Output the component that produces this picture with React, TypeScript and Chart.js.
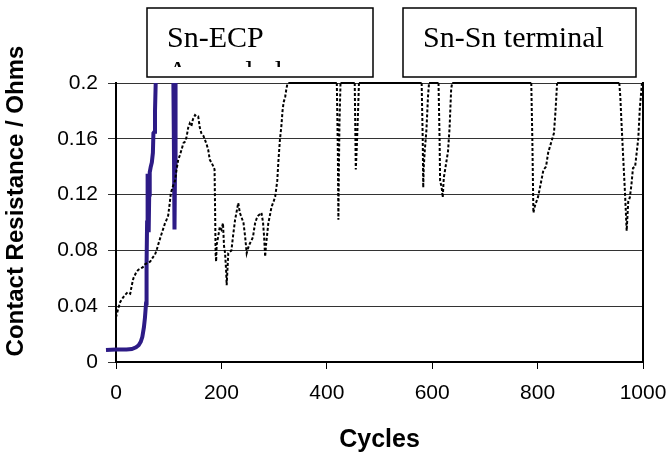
import React, { useEffect, useRef } from 'react';
import { Chart, registerables } from 'chart.js';

Chart.register(...registerables);

// ---- Data ----
const snEcpCycles = [-19, 0, 20, 30, 38, 43, 47, 50, 53, 55, 57, 58, 59, 60, 61, 62, 63, 64, 66, 68, 70, 71, 73, 74, 76, 78, 82, 104, 108, 110, 111, 112, 113, 115, 120];
const snEcpOhms = [0.0086, 0.009, 0.009, 0.0093, 0.0105, 0.012, 0.0145, 0.018, 0.025, 0.032, 0.042, 0.07, 0.1, 0.135, 0.11, 0.093, 0.12, 0.136, 0.14, 0.143, 0.15, 0.164, 0.165, 0.18, 0.21, 0.28, 0.3, 0.3, 0.24, 0.15, 0.095, 0.14, 0.2, 0.3, 0.3];

const snSnCycles = [
  0, 4, 8, 13, 17, 22, 27, 30, 33, 38, 42, 47, 51, 55, 60, 65, 70, 74, 77, 80,
  84, 87, 90, 93, 96, 99, 102, 104, 108, 112, 115, 118, 121, 125, 128, 131, 134, 137, 140, 143,
  146, 150, 153, 156, 159, 162, 166, 169, 172, 175, 178, 181, 185, 187, 188, 189, 190, 191, 194, 197,
  200, 203, 205, 207, 209, 210, 212, 213, 216, 219, 222, 226, 229, 232, 235, 238, 242, 245, 248, 251,
  254, 257, 260, 262, 264, 267, 270, 273, 276, 279, 281, 283, 285, 287, 289, 292, 295, 299, 302, 304,
  306, 308, 311, 314, 316, 318, 321, 323, 325, 327,
  419, 421, 422, 423, 424, 426,
  453, 454, 455, 457, 459, 461,
  580, 582, 583, 584, 586, 589, 592, 594,
  612, 614, 615, 618, 620, 622, 625, 630, 633, 636, 638,
  788, 790, 792, 795, 801, 806, 811, 816, 820, 827, 831, 834, 837,
  955, 957, 959, 962, 966, 969, 972, 975, 978, 981, 985, 991, 994, 998, 1000,
];
const snSnOhms = [
  0.032, 0.038, 0.043, 0.046, 0.048, 0.05, 0.049, 0.055, 0.06, 0.064, 0.066, 0.067, 0.068, 0.07, 0.071, 0.072, 0.075, 0.077, 0.08, 0.084,
  0.089, 0.0925, 0.096, 0.0995, 0.102, 0.105, 0.114, 0.121, 0.126, 0.13, 0.138, 0.145, 0.148, 0.153, 0.157, 0.158, 0.1615, 0.168, 0.171, 0.169,
  0.174, 0.177, 0.176, 0.176, 0.168, 0.164, 0.162, 0.159, 0.156, 0.152, 0.145, 0.143, 0.14, 0.138, 0.11, 0.078, 0.072, 0.084, 0.09, 0.097,
  0.095, 0.0995, 0.083, 0.078, 0.065, 0.055, 0.07, 0.078, 0.079, 0.08, 0.09, 0.102, 0.108, 0.114, 0.107, 0.104, 0.0995, 0.09, 0.078, 0.082,
  0.085, 0.087, 0.0897, 0.095, 0.0995, 0.103, 0.105, 0.106, 0.107, 0.1, 0.09, 0.0755, 0.085, 0.092, 0.0995, 0.105, 0.111, 0.115, 0.1185, 0.124,
  0.13, 0.143, 0.159, 0.17, 0.18, 0.186, 0.19, 0.195, 0.199, 0.2,
  0.2, 0.15, 0.102, 0.14, 0.171, 0.2,
  0.2, 0.17, 0.138, 0.155, 0.176, 0.2,
  0.2, 0.16, 0.125, 0.14, 0.152, 0.166, 0.19, 0.2,
  0.2, 0.16, 0.13, 0.125, 0.118, 0.132, 0.139, 0.151, 0.168, 0.196, 0.2,
  0.2, 0.16, 0.107, 0.112, 0.1185, 0.128, 0.1376, 0.14, 0.15, 0.159, 0.164, 0.18, 0.2,
  0.2, 0.19, 0.173, 0.15, 0.12, 0.094, 0.115, 0.118, 0.127, 0.139, 0.14, 0.16, 0.182, 0.2, 0.2,
];

const xTickValues = [0, 200, 400, 600, 800, 1000];
const xTickLabels = ['0', '200', '400', '600', '800', '1000'];
const yTickValues = [0, 0.04, 0.08, 0.12, 0.16, 0.2];
const yTickLabels = ['0', '0.04', '0.08', '0.12', '0.16', '0.2'];

const seriesLabels = ['Sn-ECP', 'Sn-Sn terminal'];
const ecpSubLabel = 'Annealed';
const xTitle = 'Cycles';
const yTitle = 'Contact Resistance / Ohms';

const SANS = '"Liberation Sans", Arial, sans-serif';
const SERIF = '"Liberation Serif", "Times New Roman", serif';

const annotationPlugin = {
  id: 'annotationPlugin',
  afterDraw(chart: any) {
    const ctx: CanvasRenderingContext2D = chart.ctx;
    const area = chart.chartArea;
    ctx.save();
    ctx.fillStyle = '#000';

    // y-axis title
    ctx.save();
    ctx.font = `bold 24px ${SANS}`;
    ctx.textAlign = 'center';
    ctx.textBaseline = 'middle';
    ctx.translate(16, 201);
    ctx.rotate(-Math.PI / 2);
    ctx.fillText(yTitle, 0, 0);
    ctx.restore();

    // x-axis title
    ctx.font = `bold 25px ${SANS}`;
    ctx.textAlign = 'center';
    ctx.textBaseline = 'alphabetic';
    ctx.fillText(xTitle, (area.left + area.right) / 2, 447);

    // label boxes
    const boxes = [
      { x: 147, w: 226, label: seriesLabels[0], sub: ecpSubLabel },
      { x: 403, w: 233, label: seriesLabels[1], sub: '' },
    ];
    for (const b of boxes) {
      ctx.fillStyle = '#fff';
      ctx.fillRect(b.x, 8, b.w, 69);
      ctx.strokeStyle = '#000';
      ctx.lineWidth = 1.5;
      ctx.strokeRect(b.x, 8, b.w, 69);
      ctx.save();
      ctx.beginPath();
      ctx.rect(b.x + 2, 10, b.w - 4, 57);
      ctx.clip();
      ctx.fillStyle = '#000';
      ctx.font = `30px ${SERIF}`;
      ctx.textAlign = 'left';
      ctx.textBaseline = 'alphabetic';
      ctx.fillText(b.label, b.x + 20, 47);
      if (b.sub) ctx.fillText(b.sub, b.x + 20, 81);
      ctx.restore();
    }
    ctx.restore();
  },
};

export default function App() {
  const ref = useRef<HTMLCanvasElement>(null);

  useEffect(() => {
    const ecpData = snEcpCycles.map((c, i) => ({ x: c, y: snEcpOhms[i] }));
    const snData = snSnCycles.map((c, i) => ({ x: c, y: snSnOhms[i] }));

    const chart = new Chart(ref.current as HTMLCanvasElement, {
      type: 'line',
      data: {
        datasets: [
          {
            label: seriesLabels[1],
            data: snData,
            borderColor: '#000',
            borderWidth: 2,
            borderDash: [3, 2],
            pointRadius: 0,
            tension: 0,
            fill: false,
            clip: { left: 0, top: 3, right: 3, bottom: 0 } as any,
            segment: {
              borderDash: (ctx: any) =>
                ctx.p0.parsed.y >= 0.2 && ctx.p1.parsed.y >= 0.2 ? [] : [3, 2],
            },
          },
          {
            label: seriesLabels[0],
            data: ecpData,
            borderColor: '#2D1B86',
            borderWidth: 4,
            pointRadius: 0,
            tension: 0,
            fill: false,
            clip: { left: 12, top: 0, right: 0, bottom: 0 } as any,
          },
        ],
      },
      options: {
        responsive: false,
        animation: false,
        events: [],
        layout: { padding: { top: 83, right: 27, left: 0, bottom: 0 } },
        plugins: {
          legend: { display: false },
          tooltip: { enabled: false },
          title: { display: false },
        },
        scales: {
          x: {
            type: 'linear',
            min: 0,
            max: 1000,
            afterBuildTicks: (s: any) => {
              s.ticks = xTickValues.map((v) => ({ value: v }));
            },
            afterFit: (s: any) => {
              s.height = 94;
              s.paddingLeft = 0;
              s.paddingRight = 0;
            },
            ticks: {
              callback: (_v: any, i: number) => xTickLabels[i],
              font: { family: SANS, size: 21 },
              color: '#000',
              padding: 12,
              maxRotation: 0,
            },
            grid: {
              drawOnChartArea: false,
              drawTicks: true,
              tickLength: 7,
              color: '#000',
              lineWidth: 1,
            },
            border: { display: true, color: '#000', width: 2 },
          },
          y: {
            type: 'linear',
            min: 0,
            max: 0.2,
            afterBuildTicks: (s: any) => {
              s.ticks = yTickValues.map((v) => ({ value: v }));
            },
            afterFit: (s: any) => {
              s.width = 116;
              s.paddingTop = 0;
              s.paddingBottom = 0;
            },
            ticks: {
              callback: (_v: any, i: number) => yTickLabels[i],
              font: { family: SANS, size: 21 },
              color: '#000',
              padding: 10,
            },
            grid: {
              drawOnChartArea: true,
              drawTicks: true,
              tickLength: 8,
              color: '#333',
              lineWidth: 1,
            },
            border: { display: true, color: '#000', width: 2 },
          },
          yRight: {
            type: 'linear',
            position: 'right',
            min: 0,
            max: 0.2,
            afterFit: (s: any) => {
              s.width = 0;
              s.paddingTop = 0;
              s.paddingBottom = 0;
            },
            ticks: { display: false },
            grid: { drawOnChartArea: false, drawTicks: false },
            border: { display: true, color: '#000', width: 2 },
          },
        },
      } as any,
      plugins: [annotationPlugin],
    });
    return () => chart.destroy();
  }, []);

  return (
    <div style={{ position: 'fixed', left: 0, top: 0, width: 670, height: 456, background: '#fff' }}>
      <canvas ref={ref} width={670} height={456} style={{ display: 'block', width: 670, height: 456 }} />
    </div>
  );
}
